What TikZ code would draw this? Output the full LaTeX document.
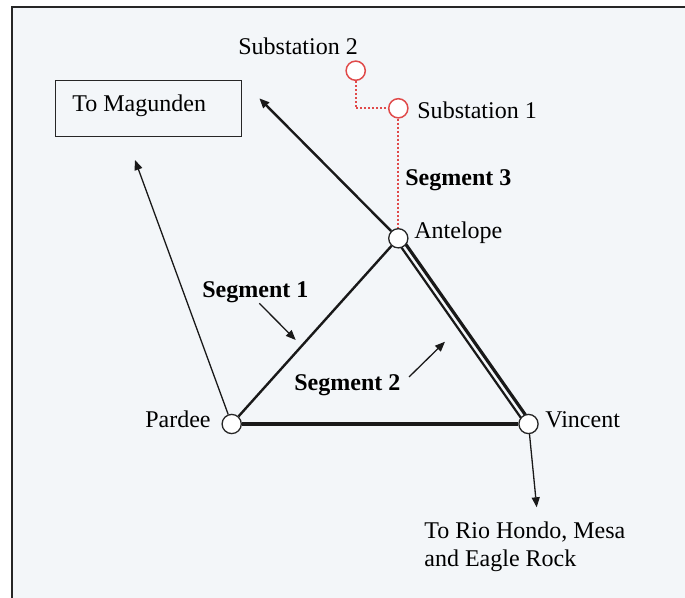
\documentclass[tikz,border=0pt]{standalone}
\usepackage{fontspec}
\setmainfont{Liberation Serif}
\usetikzlibrary{arrows.meta,calc,backgrounds}
\definecolor{bgc}{HTML}{F3F6F9}
\definecolor{redc}{HTML}{E04A4A}
\tikzset{
  stn/.style={circle,draw=black!85,line width=0.65pt,fill=white,minimum size=9.6pt,inner sep=0pt},
  rstn/.style={circle,draw=redc,line width=0.75pt,fill=white,minimum size=9.6pt,inner sep=0pt},
  lbl/.style={inner sep=0pt,font=\fontsize{12pt}{14.2pt}\selectfont},
  blbl/.style={inner sep=0pt,font=\fontsize{12pt}{14.2pt}\selectfont\bfseries},
  tip/.style={-{Triangle[length=5pt,width=4pt]}},
  thinln/.style={line width=0.65pt,black!90},
  thickln/.style={line width=1.2pt,black!90},
  redln/.style={redc,line width=1pt,dash pattern=on 1pt off 1pt},
}
\begin{document}
\begin{tikzpicture}[x=0.5pt,y=-0.5pt]
\useasboundingbox (0,0) rectangle (685,598);
\begin{scope}[on background layer]
  \fill[white] (0,0) rectangle (685,598);
  \fill[bgc] (12,7) rectangle (685,598);
\end{scope}
\draw[line width=1pt,black!85] (12,598) -- (12,7) -- (685,7);

% stations
\node[stn] (Antelope) at (398.3,238.3) {};
\node[stn] (Pardee) at (231.7,424) {};
\node[stn] (Vincent) at (528.5,424) {};
\node[rstn] (Sub1) at (398.3,108.3) {};
\node[rstn] (Sub2) at (355.7,70.7) {};

% labels
\node[lbl,anchor=base west] (tSub2) at (238,55) {Substation 2};
\node[lbl,anchor=base west] (tSub1) at (417,119) {Substation 1};
\node[blbl,anchor=base west] (tSeg3) at (405,186) {Segment 3};
\node[lbl,anchor=base west] (tAnt) at (414,239) {Antelope};
\node[lbl,anchor=base east] (tPar) at (211,428) {Pardee};
\node[lbl,anchor=base west] (tVin) at (545,428) {Vincent};
\node[blbl,anchor=base west] (tSeg1) at (202,298) {Segment 1};
\node[blbl,anchor=base west] (tSeg2) at (294,391) {Segment 2};
\node[draw=black!85,line width=0.65pt,minimum width=93pt,minimum height=28pt,inner sep=0pt] (Mag) at (148.3,108.3) {};
\node[lbl,anchor=base west] (tMag) at (72,111.5) {To Magunden};
\node[lbl,anchor=base west] (tRio) at (424,538.3) {To Rio Hondo, Mesa};
\node[lbl,anchor=base west] (tRio2) at (424,566.7) {and Eagle Rock};

% free ends
\coordinate (magTipA) at (259.3,98.3);
\coordinate (magTipP) at (135,160);
\coordinate (rioTip) at (536.7,507.3);
\coordinate (s1a) at (259.3,303.3);
\coordinate (s1b) at (295.7,340);
\coordinate (s2a) at (409,377);
\coordinate (s2b) at (445,341.7);
\coordinate (corner) at (355.7,108.3);

\begin{scope}[on background layer]
  \draw[thickln] (Pardee) -- (Antelope);
  \draw[line width=1.6pt,black!90] (Pardee) -- (Vincent);
  \draw[line width=1.6pt,black!90] ($(Antelope)!1.35pt!90:(Vincent)$) -- ($(Vincent)!1.35pt!-90:(Antelope)$);
  \draw[line width=1.1pt,black!90] ($(Antelope)!1.35pt!-90:(Vincent)$) -- ($(Vincent)!1.35pt!90:(Antelope)$);
  \draw[redln] (Sub2) -- (corner) -- (Sub1);
  \draw[redln] (Sub1) -- (Antelope);
\end{scope}
\draw[thickln,tip] (Antelope) -- (magTipA);
\draw[thinln,tip] (Pardee) -- (magTipP);
\draw[thinln,tip] (Vincent) -- (rioTip);
\draw[thinln,tip] (s1a) -- (s1b);
\draw[thinln,tip] (s2a) -- (s2b);
\end{tikzpicture}
\end{document}
